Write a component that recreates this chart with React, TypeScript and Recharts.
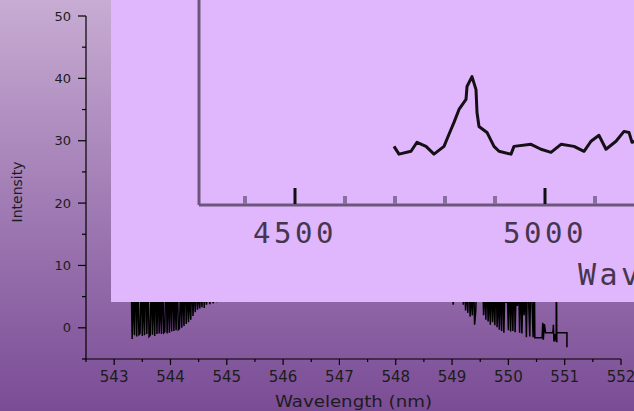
import React from "react";
import { LineChart, Line, XAxis, YAxis } from "recharts";

// main spectrum, sampled every 0.02 nm (only the parts not hidden by the inset are real readings)
const specStep = 0.02;
const spec1Start = 543.3;
const spec1 = [
  9, -1.8, 7, -1.2, 11, -1.4, 8, -1.1, -0.9, 10, -1.3, 6, -1.2, 12, -1.0, 8, -1.4, -1.2, 9, -1.1,
  7, -1.3, 10, -1.0, 8, -0.9, 6, -1.0, 9, -0.8, -0.6, 11, -0.9, 7, -0.8, 8, -0.6, 10, -0.5, 6,
  -0.4, 9, -0.3, -0.1, 7, 0.0, 8, 0.3, 11, 0.6, 7, 0.9, 6, 1.3, 9, 1.9, 7, 2.5, 8, 2.9,
  6, 3.1, 7, 3.3, 10, 3.2, 8, 3.7, 6, 5, 3.8, 7, 5, 3.9, 6, 5.5, 4.1, 8,
];
const spec2Start = 549.0;
const spec2 = [
  8, 3.7, 6, 9, 7, 8, 10, 6, 9, 7, 3.7, 8, 2.8, 7, 2.4, 10, 1.8, 6, 2.0, 9,
  0.5, 2.6, 8, 7, 9, 6, 8, 10, 2.0, 7, 1.3, 9, 1.0, 6, 0.5, 8, 0.9, 7, 0.4, 10,
  0.1, 6, -0.3, 8, -0.5, 9, -0.8, 7, 4.0, 6, -0.4, 9, -0.6, 8, -0.5, 11, -0.7, 7, 3.5, 8,
  -0.8, 9, -0.9, 6, 2.0, 7, -1.5, 8, 4.2, -1.4, 9, 3.9, -1.5, 10,
];
const tailWave = [
  550.47, 550.6, 550.61, 550.62, 550.64, 550.66, 550.79, 550.8, 550.81, 550.83, 550.85, 550.85,
  550.86, 550.86, 551.04, 551.04,
];
const tailIntensity = [
  -1.6, -1.6, 0.8, -1.9, 0.6, -0.8, -0.8, 0.5, -2.2, -1.0, -2.2, 15, -2.3, -0.8, -0.8, -3.1,
];

const xTicks = [
  542.5, 543, 543.5, 544, 544.5, 545, 545.5, 546, 546.5, 547, 547.5, 548, 548.5, 549, 549.5, 550,
  550.5, 551, 551.5, 552,
];
const yTicks = [-5, 0, 5, 10, 15, 20, 25, 30, 35, 40, 45, 50];

// inset picture (spectrum in Å)
const insetWave = [
  4698, 4708, 4732, 4744, 4762, 4778, 4798, 4808, 4818, 4828, 4842, 4844, 4854, 4862, 4864, 4868,
  4884, 4898, 4908, 4932, 4938, 4972, 4992, 5012, 5032, 5058, 5078, 5092, 5108, 5122, 5142, 5158,
  5168, 5174, 5190,
];
const insetIntensity = [
  28.6, 24.8, 26.2, 30.6, 28.6, 24.8, 28.6, 34.5, 40.3, 46.6, 51.5, 57.8, 62.6, 56.3, 45.1, 38.3,
  35.4, 28.6, 26.2, 24.8, 28.6, 29.6, 27.2, 25.7, 29.6, 28.6, 26.2, 31.1, 34.0, 27.2, 31.1, 35.9,
  35.4, 30.6, 32.0,
];
const insetTicks = [4400, 4500, 4600, 4700, 4800, 4900, 5000, 5100];

const mainData = [
  ...spec1.map((v, i) => ({ w: spec1Start + i * specStep, v })),
  ...spec2.map((v, i) => ({ w: spec2Start + i * specStep, v })),
  ...tailWave.map((w, i) => ({ w, v: tailIntensity[i] })),
];
const insetData = insetWave.map((w, i) => ({ w, v: insetIntensity[i] }));

const FONT = "DejaVu Sans";
const INK = "#1c1c1c";

const MainXTick = ({ x, y, payload }: any) => {
  const major = Number.isInteger(payload.value);
  return (
    <g>
      <line x1={x} x2={x} y1={y} y2={y + (major ? 6 : 3)} stroke="#000" strokeWidth={1.2} />
      {major && (
        <text x={x} y={y + 23} textAnchor="middle" fontSize={15} fontFamily={FONT} fill={INK}>
          {payload.value}
        </text>
      )}
    </g>
  );
};

const MainYTick = ({ x, y, payload }: any) => {
  const major = payload.value % 10 === 0;
  return (
    <g>
      <line x1={x} x2={x - (major ? 8 : 4)} y1={y} y2={y} stroke="#000" strokeWidth={1.2} />
      {major && (
        <text x={x - 15} y={y + 4.6} textAnchor="end" fontSize={13} fontFamily={FONT} fill={INK}>
          {payload.value}
        </text>
      )}
    </g>
  );
};

const InsetTick = ({ x, y, payload }: any) => {
  const major = payload.value % 500 === 0;
  return (
    <g>
      {major ? (
        <rect x={x - 1.5} y={y - 17} width={3} height={16} fill="#111" />
      ) : (
        <rect x={x - 2} y={y - 9} width={4} height={8} fill="#8a6e9e" />
      )}
      {major && (
        <text
          x={x}
          y={y + 38}
          textAnchor="middle"
          fontSize={29}
          letterSpacing={3.5}
          fontFamily="DejaVu Sans Mono"
          fill="#2a2030"
          opacity={0.85}
        >
          {payload.value}
        </text>
      )}
    </g>
  );
};

export default function App() {
  return (
    <div
      style={{
        position: "absolute",
        left: 0,
        top: 0,
        width: 634,
        height: 411,
        overflow: "hidden",
        background: "linear-gradient(180deg, #c8acd3 0%, #a07bb4 50%, #7a4c95 100%)",
      }}
    >
      <LineChart width={634} height={411} data={mainData} margin={{ top: 16, right: 13, bottom: 0, left: 0 }}>
        <XAxis
          dataKey="w"
          type="number"
          domain={[542.5, 552]}
          ticks={xTicks}
          interval={0}
          height={52}
          tickLine={false}
          tickSize={0}
          tickMargin={0}
          tick={<MainXTick />}
          axisLine={{ stroke: "#000", strokeWidth: 1.2 }}
          label={{
            content: (p: any) => (
              <text
                x={p.viewBox.x + p.viewBox.width / 2}
                y={p.viewBox.y + 47.5}
                textAnchor="middle"
                fontSize={16}
                fontFamily={FONT}
                fill={INK}
                textLength={157}
                lengthAdjust="spacingAndGlyphs"
              >
                Wavelength (nm)
              </text>
            ),
          }}
        />
        <YAxis
          type="number"
          domain={[-5, 50]}
          ticks={yTicks}
          interval={0}
          width={86}
          tickLine={false}
          tickSize={0}
          tickMargin={0}
          tick={<MainYTick />}
          axisLine={{ stroke: "#000", strokeWidth: 1.2 }}
          label={{
            content: (p: any) => (
              <text
                transform={`translate(22, ${p.viewBox.y + p.viewBox.height / 2 + 4.5}) rotate(-90)`}
                textAnchor="middle"
                fontSize={14}
                fontFamily={FONT}
                fill={INK}
              >
                Intensity
              </text>
            ),
          }}
        />
        <Line
          dataKey="v"
          type="linear"
          stroke="#000"
          strokeWidth={1.5}
          dot={false}
          isAnimationActive={false}
        />
      </LineChart>

      <div
        style={{
          position: "absolute",
          left: 111,
          top: 0,
          width: 523,
          height: 302,
          overflow: "hidden",
          background: "#e0b6fc",
        }}
      >
        <LineChart width={700} height={302} data={insetData} margin={{ top: 0, right: 0, bottom: 0, left: 0 }}>
          <XAxis
            dataKey="w"
            type="number"
            domain={[4308, 5532]}
            ticks={insetTicks}
            interval={0}
            height={97}
            tickLine={false}
            tickSize={0}
            tickMargin={0}
            tick={<InsetTick />}
            axisLine={{ stroke: "#6c577c", strokeWidth: 3 }}
            label={{
              content: (p: any) => (
                <text
                  x={p.viewBox.x + 379}
                  y={p.viewBox.y + 80}
                  fontSize={30}
                  letterSpacing={3.5}
                  fontFamily="DejaVu Sans Mono"
                  fill="#2a2030"
                  opacity={0.85}
                >
                  Wavelength (Å)
                </text>
              ),
            }}
          />
          <YAxis
            type="number"
            domain={[0, 100]}
            width={88}
            tick={false}
            tickLine={false}
            axisLine={{ stroke: "#6c577c", strokeWidth: 3 }}
          />
          <Line
            dataKey="v"
            type="linear"
            stroke="#141014"
            strokeWidth={3}
            strokeLinejoin="round"
            dot={false}
            isAnimationActive={false}
          />
        </LineChart>
      </div>
    </div>
  );
}
